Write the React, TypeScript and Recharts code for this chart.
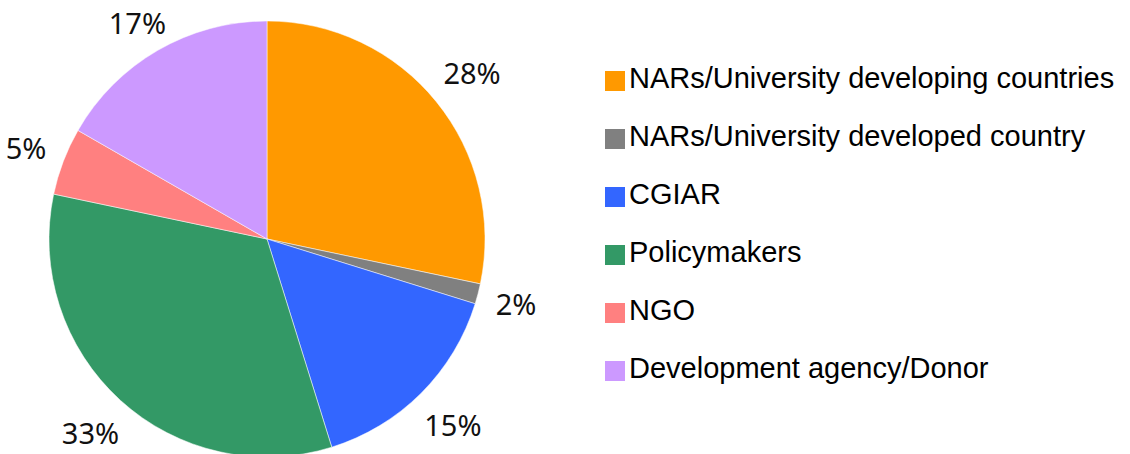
import { PieChart, Pie, Cell, Legend } from 'recharts';

const categories = [
  'NARs/University developing countries',
  'NARs/University developed country',
  'CGIAR',
  'Policymakers',
  'NGO',
  'Development agency/Donor',
];
const shares = [28.3, 1.5, 15.4, 33.1, 5.0, 16.7];
const colors = ['#FF9900', '#808080', '#3366FF', '#339966', '#FF8080', '#CC99FF'];

const RAD = Math.PI / 180;
const LABEL_FONT = 29;

const chartData = categories.map((name, i) => ({ name, value: shares[i] }));

// percentage label placed outside the slice, centred on its box
const renderLabel = (props: any) => {
  const { cx, cy, midAngle, outerRadius, value } = props;
  const text = `${Math.round(value)}%`;
  const w = ((text.length - 1) * 0.572 + 0.826) * LABEL_FONT;
  const h = LABEL_FONT * 0.75;
  const c = Math.cos(-midAngle * RAD);
  const s = Math.sin(-midAngle * RAD);
  const r = outerRadius + 17 + (w / 2) * Math.abs(c) + (h / 2) * Math.abs(s);
  // keep labels inside the chart area, like the original
  const y = Math.max(cy + r * s, 22);
  return (
    <text
      x={cx + r * c}
      y={y}
      textAnchor="middle"
      dominantBaseline="central"
      fill="#111"
      fontSize={LABEL_FONT}
      fontFamily="'Noto Sans', sans-serif"
    >
      {text}
    </text>
  );
};

const renderLegend = (props: any) => {
  const items = [...(props.payload || [])].sort(
    (a: any, b: any) => categories.indexOf(a.value) - categories.indexOf(b.value)
  );
  return (
    <div style={{ fontFamily: "'Liberation Sans', Arial, sans-serif", fontSize: 29, color: '#000' }}>
      {items.map((item: any, i: number) => (
        <div key={i} style={{ position: 'absolute', left: 0, top: i * 58, height: 30, display: 'flex', alignItems: 'center', whiteSpace: 'nowrap' }}>
          <span style={{ width: 20, height: 20, background: item.color, display: 'inline-block', marginRight: 4, marginTop: 6 }} />
          <span>{item.value}</span>
        </div>
      ))}
    </div>
  );
};

export default function App() {
  return (
    <div style={{ position: 'absolute', left: 0, top: 0, width: 1130, height: 454, background: '#fff' }}>
      <PieChart width={1130} height={454} margin={{ top: 0, right: 0, bottom: 0, left: 0 }}>
        <Pie
          data={chartData}
          dataKey="value"
          nameKey="name"
          cx={267}
          cy={239}
          outerRadius={218}
          startAngle={90}
          endAngle={-270}
          stroke="#ffffff"
          strokeWidth={0.5}
          label={renderLabel}
          labelLine={false}
          isAnimationActive={false}
        >
          {chartData.map((d, i) => (
            <Cell key={d.name} fill={colors[i]} />
          ))}
        </Pie>
        <Legend
          content={renderLegend}
          wrapperStyle={{ position: 'absolute', left: 605, top: 63, width: 520, height: 360 }}
        />
      </PieChart>
    </div>
  );
}
